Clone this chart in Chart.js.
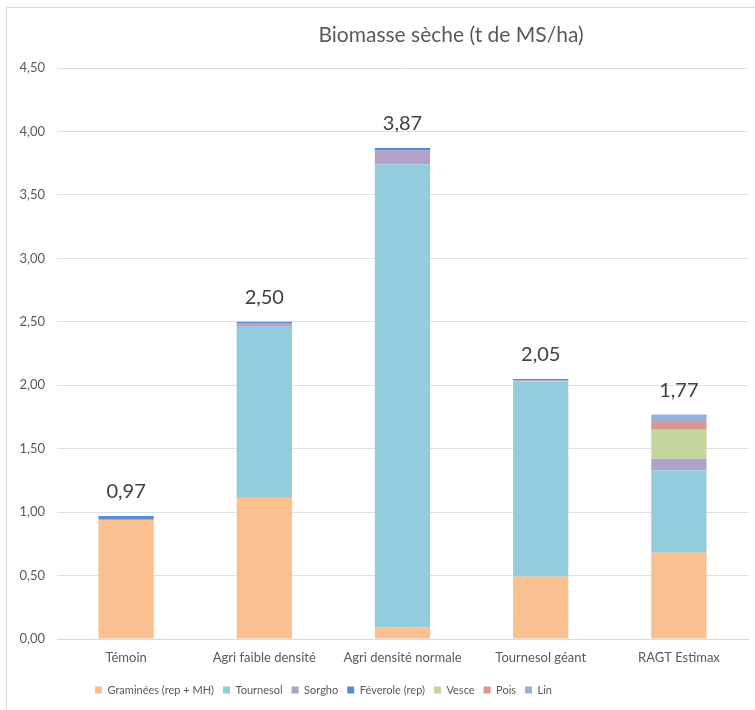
<!DOCTYPE html>
<html>
<head>
<meta charset="utf-8">
<script src="https://cdn.jsdelivr.net/npm/chart.js@4"></script>
<style>
  html, body { margin: 0; padding: 0; background: #ffffff; }
  #c { display: block; }
</style>
</head>
<body>
<canvas id="c" width="755" height="710"></canvas>
<script>
const categories = ["Témoin", "Agri faible densité", "Agri densité normale", "Tournesol géant", "RAGT Estimax"];
const graminees = [0.94, 1.12, 0.09, 0.49, 0.68];
const tournesol = [0, 1.34, 3.65, 1.54, 0.65];
const sorgho    = [0, 0.03, 0.11, 0.01, 0.09];
const feverole  = [0.03, 0.01, 0.02, 0.01, 0];
const vesce     = [0, 0, 0, 0, 0.23];
const pois      = [0, 0, 0, 0, 0.06];
const lin       = [0, 0, 0, 0, 0.06];
const totals    = [0.97, 2.50, 3.87, 2.05, 1.77];
const seriesNames = ["Graminées (rep + MH)", "Tournesol", "Sorgho", "Féverole (rep)", "Vesce", "Pois", "Lin"];
const titleText = "Biomasse sèche (t de MS/ha)";

const FONT = "Lato";
const fmt = v => Number(v).toFixed(2).replace('.', ',');

const seriesData = [graminees, tournesol, sorgho, feverole, vesce, pois, lin];
const colors = ['#FAC090', '#93CDDD', '#B3A2C7', '#558ED5', '#C3D69B', '#D99694', '#95B3D7'];

const framePlugin = {
  id: 'frame',
  beforeDraw(chart) {
    const ctx = chart.ctx;
    ctx.save();
    ctx.fillStyle = '#ffffff';
    ctx.fillRect(0, 0, chart.width, chart.height);
    ctx.strokeStyle = '#d9d9d9';
    ctx.lineWidth = 1;
    ctx.beginPath();
    ctx.moveTo(6.5, chart.height);
    ctx.lineTo(6.5, 7.5);
    ctx.lineTo(chart.width, 7.5);
    ctx.stroke();
    // title
    ctx.fillStyle = '#595959';
    ctx.font = '21px ' + FONT;
    ctx.textAlign = 'center';
    ctx.textBaseline = 'middle';
    ctx.fillText(titleText, 451, 35);
    ctx.restore();
  },
  afterLayout(chart) {
    const lg = chart.legend;
    if (lg) {
      const pad = lg.options.labels.padding;
      const d = (95 - pad) - lg.left;
      lg.left += d;
      lg.right += d;
    }
  }
};

const totalsPlugin = {
  id: 'totals',
  afterDatasetsDraw(chart) {
    const ctx = chart.ctx;
    const y = chart.scales.y;
    const meta = chart.getDatasetMeta(0);
    ctx.save();
    ctx.fillStyle = '#404040';
    ctx.font = '20px ' + FONT;
    ctx.textAlign = 'center';
    ctx.textBaseline = 'middle';
    totals.forEach((t, i) => {
      const x = meta.data[i].x;
      ctx.fillText(fmt(t), x, y.getPixelForValue(t) - 24);
    });
    ctx.restore();
  }
};

new Chart(document.getElementById('c'), {
  type: 'bar',
  data: {
    labels: categories,
    datasets: seriesData.map((d, i) => ({
      label: seriesNames[i],
      data: d,
      backgroundColor: colors[i],
      borderWidth: 0,
      categoryPercentage: 1.0,
      barPercentage: 0.4
    }))
  },
  options: {
    responsive: false,
    devicePixelRatio: 1,
    animation: false,
    layout: { padding: { top: 68, right: 7, bottom: 4.5, left: 0 } },
    plugins: {
      title: { display: false },
      tooltip: { enabled: false },
      legend: {
        display: true,
        position: 'bottom',
        align: 'start',
        labels: {
          boxWidth: 7,
          boxHeight: 7,
          padding: 9,
          color: '#595959',
          font: { family: FONT, size: 11 }
        }
      }
    },
    scales: {
      x: {
        stacked: true,
        grid: { display: false, drawTicks: false },
        border: { display: true, color: '#d9d9d9' },
        ticks: { color: '#595959', font: { family: FONT, size: 13 }, padding: 11, maxRotation: 0 },
        afterFit(s) { s.height = 36.5; }
      },
      y: {
        stacked: true,
        min: 0,
        max: 4.5,
        grid: { color: '#e0e0e0', drawTicks: false },
        border: { display: false },
        ticks: {
          stepSize: 0.5,
          color: '#595959',
          font: { family: FONT, size: 13 },
          padding: 12,
          callback: v => fmt(v)
        },
        afterFit(s) { s.width = 57; }
      }
    }
  },
  plugins: [framePlugin, totalsPlugin]
});
</script>
</body>
</html>
